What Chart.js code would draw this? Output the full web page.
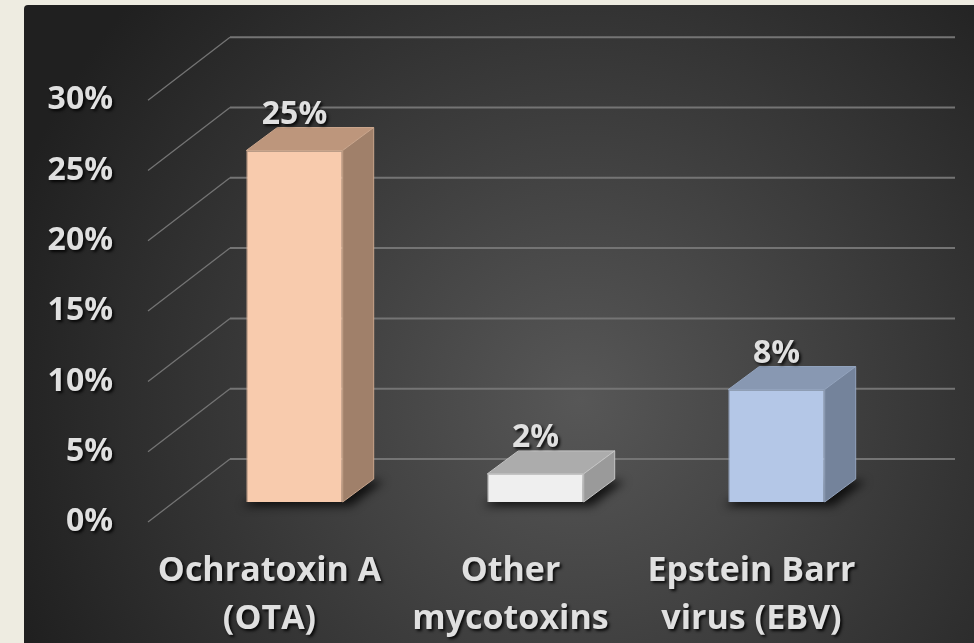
<!DOCTYPE html>
<html lang="en">
<head>
<meta charset="UTF-8">
<title>Prevalence</title>
<script src="https://cdn.jsdelivr.net/npm/chart.js"></script>
<style>
    body { margin: 0; background: #eeece1; }
    canvas { display: block; }
</style>
</head>
<body>
<canvas id="barChart" width="974" height="643"></canvas>
<script>
    const categories = [["Ochratoxin A", "(OTA)"], ["Other", "mycotoxins"], ["Epstein Barr", "virus (EBV)"]];
    const values = [25, 2, 8];
    const tickValues = [0, 5, 10, 15, 20, 25, 30];

    const frontColors = ["#f8cbad", "#efefef", "#b4c7e7"];
    const edgeColors = ["#c9a58c", "#c4c4c4", "#93a3bd"];
    const topColors = ["#bd967c", "#acacac", "#8898b2"];
    const sideColors = ["#a0806a", "#9a9a9a", "#74839b"];

    // offsets of the 3D planes relative to the bar front plane
    const BAR_DEPTH = [31, -23];
    const WALL = [56, -43];
    const FRONT = [-26, 20];

    const labelFont = { family: "Open Sans", weight: "bold", size: 32 };
    const textColor = "#e0e0e0";

    function poly(ctx, pts, fill, stroke) {
        ctx.beginPath();
        ctx.moveTo(pts[0][0], pts[0][1]);
        for (let i = 1; i < pts.length; i++) ctx.lineTo(pts[i][0], pts[i][1]);
        ctx.closePath();
        ctx.fillStyle = fill;
        ctx.fill();
        if (stroke) {
            ctx.strokeStyle = stroke;
            ctx.lineWidth = 1;
            ctx.stroke();
        }
    }

    const scene3d = {
        id: "scene3d",
        beforeDraw(chart) {
            const { ctx, width, height } = chart;
            ctx.save();
            ctx.fillStyle = "#eeece1";
            ctx.fillRect(0, 0, width, height);
            const g = ctx.createRadialGradient(580, 400, 0, 580, 400, 600);
            g.addColorStop(0, "#575757");
            g.addColorStop(1, "#202020");
            ctx.fillStyle = g;
            ctx.beginPath();
            ctx.roundRect(24, 5, width - 24, height - 5, [4, 0, 0, 0]);
            ctx.fill();
            ctx.restore();
            // axis labels get a soft drop shadow
            ctx.shadowColor = "rgba(0,0,0,0.85)";
            ctx.shadowOffsetX = 2;
            ctx.shadowOffsetY = 2;
            ctx.shadowBlur = 3;
        },
        beforeDatasetsDraw(chart) {
            const { ctx, chartArea: a } = chart;
            const y = chart.scales.y;
            ctx.shadowColor = "rgba(0,0,0,0)";
            ctx.save();
            ctx.strokeStyle = "#747474";
            y.ticks.forEach(t => {
                const py = y.getPixelForValue(t.value);
                ctx.lineWidth = 2;
                ctx.beginPath();
                ctx.moveTo(a.left + WALL[0], py + WALL[1]);
                ctx.lineTo(a.right + WALL[0] + 2, py + WALL[1]);
                ctx.stroke();
                ctx.lineWidth = 1.3;
                ctx.beginPath();
                ctx.moveTo(a.left + FRONT[0], py + FRONT[1]);
                ctx.lineTo(a.left + WALL[0], py + WALL[1]);
                ctx.stroke();
            });
            // blurred shadows on the floor under each bar
            ctx.filter = "blur(5px)";
            chart.getDatasetMeta(0).data.forEach(bar => {
                const l = bar.x - bar.width / 2, r = bar.x + bar.width / 2, b = bar.base;
                poly(ctx, [[l - 4, b + 4], [r + 8, b + 4], [r + BAR_DEPTH[0] + 10, b + BAR_DEPTH[1] + 2], [l + BAR_DEPTH[0], b + BAR_DEPTH[1] + 2]], "rgba(0,0,0,0.75)");
            });
            ctx.restore();
        },
        afterDatasetsDraw(chart) {
            const { ctx } = chart;
            const [dx, dy] = BAR_DEPTH;
            ctx.save();
            chart.getDatasetMeta(0).data.forEach((bar, i) => {
                const l = bar.x - bar.width / 2, r = bar.x + bar.width / 2, t = bar.y, b = bar.base;
                poly(ctx, [[l, t], [r, t], [r + dx, t + dy], [l + dx, t + dy]], topColors[i], edgeColors[i]);
                poly(ctx, [[r, t], [r + dx, t + dy], [r + dx, b + dy], [r, b]], sideColors[i], edgeColors[i]);
            });
            ctx.font = `${labelFont.weight} ${labelFont.size}px ${labelFont.family}`;
            ctx.fillStyle = textColor;
            ctx.textAlign = "center";
            ctx.textBaseline = "middle";
            ctx.shadowColor = "rgba(0,0,0,0.85)";
            ctx.shadowOffsetX = 2;
            ctx.shadowOffsetY = 2;
            ctx.shadowBlur = 3;
            chart.getDatasetMeta(0).data.forEach((bar, i) => {
                ctx.fillText(values[i] + "%", bar.x, bar.y - 36);
            });
            ctx.restore();
        }
    };

    new Chart(document.getElementById("barChart"), {
        type: "bar",
        data: {
            labels: categories,
            datasets: [{
                data: values,
                backgroundColor: frontColors,
                borderColor: edgeColors,
                borderWidth: 1,
                barPercentage: 0.4,
                categoryPercentage: 1
            }]
        },
        options: {
            responsive: false,
            animation: false,
            layout: { padding: { left: 0, right: 77, top: 78, bottom: 0 } },
            plugins: {
                legend: { display: false },
                tooltip: { enabled: false }
            },
            scales: {
                x: {
                    grid: { display: false },
                    border: { display: false },
                    afterFit: s => { s.height = 141; },
                    ticks: {
                        color: textColor,
                        font: { ...labelFont, size: 34, lineHeight: 1.4 },
                        maxRotation: 0,
                        autoSkip: false,
                        padding: 38,
                        labelOffset: -25
                    }
                },
                y: {
                    min: 0,
                    max: 30,
                    grid: { display: false, drawTicks: false },
                    border: { display: false },
                    afterFit: s => { s.width = 174; },
                    afterBuildTicks: s => { s.ticks = tickValues.map(v => ({ value: v })); },
                    ticks: {
                        color: textColor,
                        font: labelFont,
                        padding: 61,
                        labelOffset: 20,
                        callback: v => v + "%"
                    }
                }
            }
        },
        plugins: [scene3d]
    });
</script>
</body>
</html>
